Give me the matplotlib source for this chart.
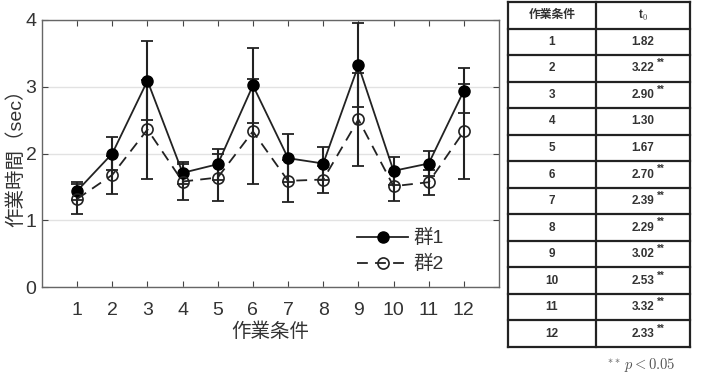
import matplotlib.pyplot as plt
import numpy as np

plt.rcParams['font.family'] = ['Liberation Sans', 'Noto Sans CJK JP']
plt.rcParams['mathtext.fontset'] = 'cm'

# data
conditions = list(range(1, 13))
group1_mean = [1.44, 2.00, 3.09, 1.71, 1.84, 3.02, 1.93, 1.85, 3.32, 1.74, 1.85, 2.94]
group1_err = [0.14, 0.25, 0.59, 0.17, 0.23, 0.56, 0.36, 0.25, 0.63, 0.21, 0.19, 0.34]
group2_mean = [1.32, 1.68, 2.36, 1.58, 1.64, 2.33, 1.59, 1.61, 2.51, 1.51, 1.57, 2.33]
group2_err = [0.22, 0.29, 0.74, 0.27, 0.35, 0.79, 0.32, 0.20, 0.69, 0.22, 0.19, 0.71]

t0_values = ['1.82', '3.22', '2.90', '1.30', '1.67', '2.70',
             '2.39', '2.29', '3.02', '2.53', '3.32', '2.33']
significant = [False, True, True, False, False, True,
               True, True, True, True, True, True]

line_col = '#222222'
fig = plt.figure(figsize=(7.01, 3.76), dpi=100)

# ---- main chart ----
ax = fig.add_axes([42 / 701, 1 - 287 / 376, 457 / 701, 267 / 376])
ax.errorbar(conditions, group1_mean, yerr=group1_err, fmt='none',
            ecolor=line_col, elinewidth=1.5, capsize=4, capthick=1.3)
ax.errorbar(conditions, group2_mean, yerr=group2_err, fmt='none',
            ecolor=line_col, elinewidth=1.5, capsize=4, capthick=1.3)
ax.plot(conditions, group1_mean, '-', color=line_col, lw=1.3,
        marker='o', ms=8, mfc='black', mec='black', label='群1')
ax.plot(conditions, group2_mean, '--', color=line_col, lw=1.3,
        dashes=(6, 4), marker='o', ms=8, mfc='none', mec=line_col,
        mew=1.2, label='群2')

ax.set_xlim(0, 13)
ax.set_ylim(0, 4)
ax.set_xticks(conditions)
ax.set_yticks([0, 1, 2, 3, 4])
ax.grid(axis='y', color='#e2e2e2', lw=1.0)
ax.set_axisbelow(True)
ax.tick_params(axis='both', direction='in', top=True, right=True,
               labelsize=14, colors='#444444', labelcolor='#333333', length=4)
ax.tick_params(axis='x', pad=11)
ax.tick_params(axis='y', pad=4)
for s in ax.spines.values():
    s.set_color('#666666')
    s.set_linewidth(1.0)
ax.set_xlabel('作業条件', fontsize=14, color='#333333', labelpad=2)
ax.set_ylabel('作業時間（sec）', fontsize=14, color='#333333', labelpad=0)

leg = ax.legend(loc='lower left', bbox_to_anchor=(0.66, 0.0), fontsize=14,
                handlelength=2.6, handletextpad=0.3, labelspacing=0.4,
                frameon=True, edgecolor='none', framealpha=1.0,
                borderpad=0.2)
for t in leg.get_texts():
    t.set_color('#333333')

# ---- table on the right ----
tx = fig.add_axes([508 / 701, 1 - 347 / 376, 182 / 701, 345 / 376])
tx.set_xlim(0, 1)
tx.set_ylim(13, 0)
tx.axis('off')
split = 88 / 182
n_rows = len(conditions) + 1
for r in range(n_rows + 1):
    tx.plot([0, 1], [r, r], color='#222222', lw=1.6, clip_on=False)
for xv in [0, split, 1]:
    tx.plot([xv, xv], [0, n_rows], color='#222222', lw=1.6, clip_on=False)

tx.text(split / 2, 0.5, '作業条件', ha='center', va='center',
        fontsize=8.5, fontweight='bold', color='#333333')
tx.text((split + 1) / 2, 0.5, r't$_0$', ha='center', va='center',
        fontsize=8.5, fontweight='bold', color='#333333')
for i, (c, v, sig) in enumerate(zip(conditions, t0_values, significant)):
    y = i + 1.5
    tx.text(split / 2, y, str(c), ha='center', va='center',
            fontsize=8.5, fontweight='bold', color='#333333')
    tx.text((split + 1) / 2, y, v, ha='center', va='center',
            fontsize=8.5, fontweight='bold', color='#333333')
    if sig:
        tx.text((split + 1) / 2 + 0.075, y - 0.2, '**', ha='left', va='center',
                fontsize=7, fontweight='bold', color='#333333')

fig.text(641 / 701, 1 - 365 / 376, r'$^{**}\,p < 0.05$', ha='center',
         va='center', fontsize=10.5, color='#555555')

plt.savefig('out.png', dpi=100)
